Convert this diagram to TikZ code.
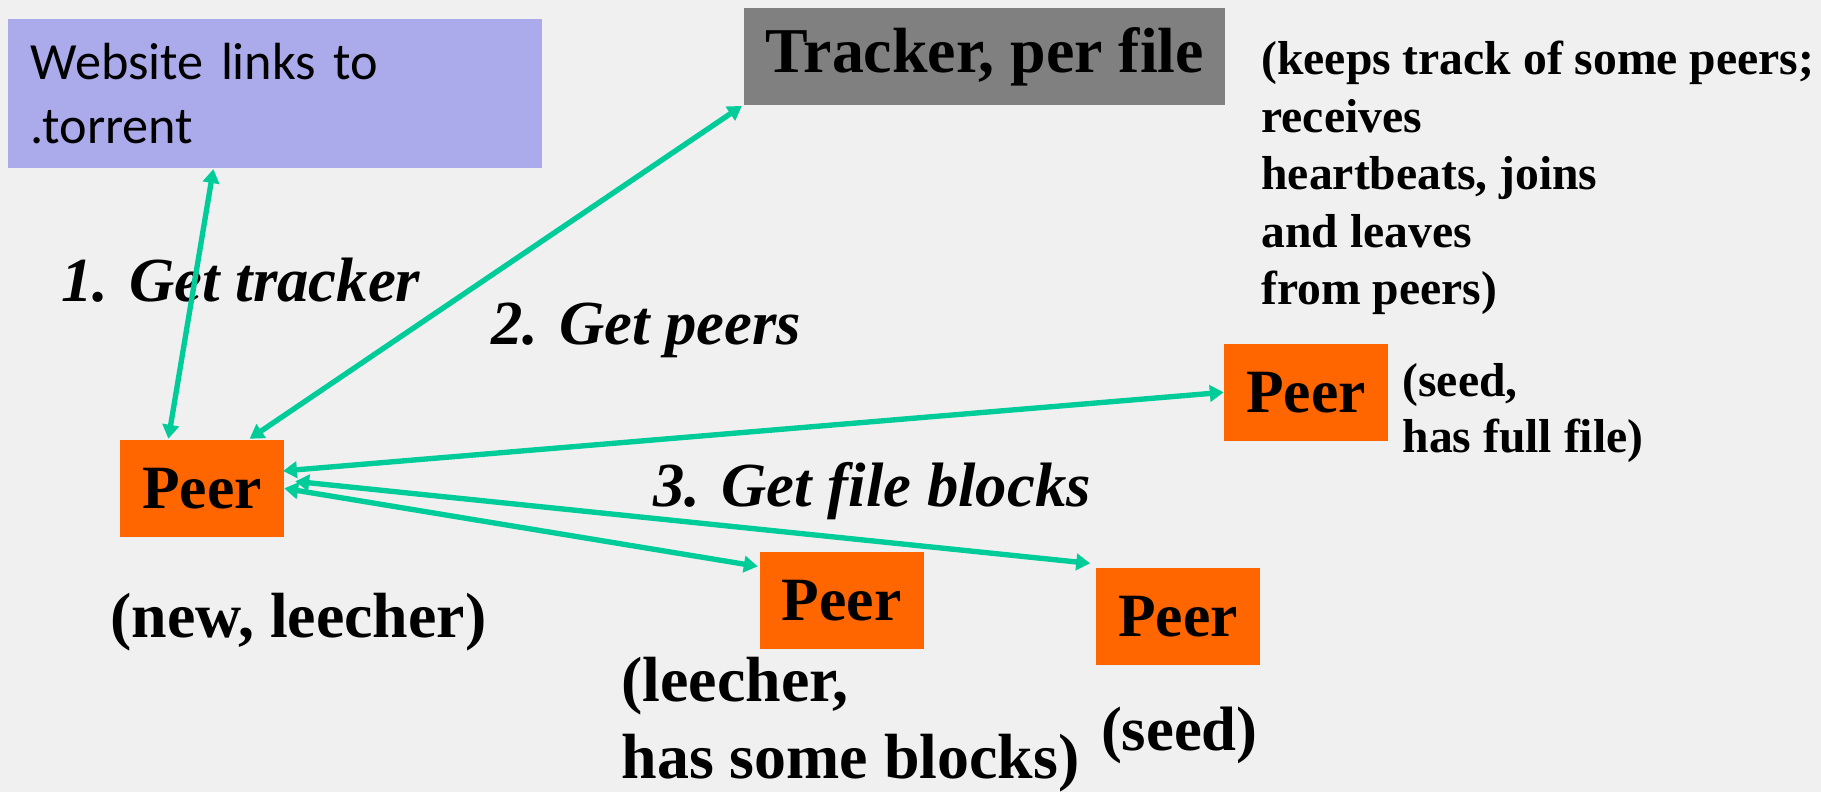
\documentclass[tikz,border=0pt]{standalone}
\usepackage{fontspec}
\setmainfont{Liberation Serif}
\newfontfamily\websans{Carlito}
\usetikzlibrary{arrows.meta,calc}
\definecolor{bgc}{RGB}{240,240,240}
\definecolor{lav}{RGB}{171,171,235}
\definecolor{trk}{RGB}{128,128,128}
\definecolor{org}{RGB}{255,102,0}
\definecolor{teal}{RGB}{0,204,153}
\tikzset{
  peerbox/.style={fill=org, minimum width=141pt, minimum height=83pt, inner sep=0pt,
    font=\bfseries\fontsize{53}{60}\selectfont},
  lbl/.style={font=\bfseries\fontsize{55}{66}\selectfont, align=left, inner sep=0pt},
  note/.style={font=\bfseries\fontsize{41}{49.5}\selectfont, align=left, inner sep=0pt},
  stepl/.style={font=\bfseries\itshape\fontsize{54}{60}\selectfont, inner sep=0pt},
  conn/.style={draw=teal, line width=4.6pt,
    {Triangle[length=12pt,width=14pt]}-{Triangle[length=12pt,width=14pt]}}
}
\begin{document}
\begin{tikzpicture}[x=1pt,y=-1pt]
\fill[bgc] (0,0) rectangle (1568,682);
\useasboundingbox (0,0) rectangle (1568,682);
% boxes
\node[fill=lav, minimum width=459.6pt, minimum height=128pt, inner xsep=19pt, inner ysep=0pt,
  text width=421pt, align=left, font=\websans\fontsize{45}{55}\selectfont] (web) at (236.7,80.4)
  {Website links to\\.torrent};
\node[fill=trk, minimum width=414pt, minimum height=83pt, inner sep=0pt,
  font=\bfseries\fontsize{55}{60}\selectfont] (tracker) at (848,48.5)
  {\raisebox{-7pt}{Tracker, per file}};
\node[note, anchor=north west] (tnote) at (1086,35.4)
  {(keeps track of some peers;\\receives\\heartbeats, joins\\and leaves\\from peers)};
% peers
\node[peerbox] (p0) at (174,420.5) {Peer};
\node[peerbox] (p1) at (1124.4,337.8) {Peer};
\node[peerbox] (p2) at (724.7,517) {Peer};
\node[peerbox] (p3) at (1014.4,530.8) {Peer};
% labels
\node[lbl, anchor=base] (l0) at (257,549) {(new, leecher)};
\node[note, anchor=north west, font=\bfseries\fontsize{41}{48}\selectfont] (l1) at (1207.5,312.7) {(seed,\\has full file)};
\node[lbl, anchor=north west] (l2) at (535,566) {(leecher,\\has some blocks)};
\node[lbl, anchor=base, font=\bfseries\fontsize{54}{60}\selectfont] (l3) at (1015.5,646) {(seed)};
% step labels
\node[stepl, anchor=base] (s1) at (207.5,260) {1. Get tracker};
\node[stepl, anchor=base] (s2) at (556.5,297) {2. Get peers};
\node[stepl, anchor=base] (s3) at (751,436) {3. Get file blocks};
% connectors
\draw[conn] ([xshift=-53pt,yshift=-1pt]web.south) -- ([xshift=-29pt,yshift=1pt]p0.north);
\draw[conn] ([xshift=-2pt,yshift=-1pt]tracker.south west) -- ([xshift=41pt,yshift=1pt]p0.north);
\draw[conn] ([xshift=-1pt,yshift=15pt]p0.east) -- (p1.west);
\draw[conn] ([xshift=9.5pt,yshift=6pt]p0.east) -- ([xshift=-5pt,yshift=4pt]p3.north west);
\draw[conn] (p0.east) -- ([xshift=-1.5pt,yshift=-12.4pt]p2.north west);
\end{tikzpicture}
\end{document}
